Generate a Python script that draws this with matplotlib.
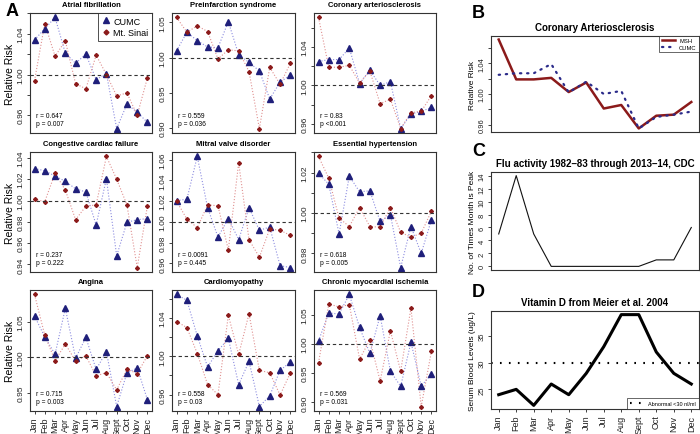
import matplotlib
matplotlib.use('Agg')
import matplotlib.pyplot as plt
from matplotlib.lines import Line2D
import numpy as np

plt.rcParams['font.family'] = ['Liberation Sans', 'DejaVu Sans']

months = ['Jan', 'Feb', 'Mar', 'Apr', 'May', 'Jun', 'Jul', 'Aug', 'Sept', 'Oct', 'Nov', 'Dec']

titles = ['Atrial fibrillation', 'Preinfarction syndrome', 'Coronary arteriosclerosis',
          'Congestive cardiac failure', 'Mitral valve disorder', 'Essential hypertension',
          'Angina', 'Cardiomyopathy', 'Chronic myocardial ischemia']

cumc = [
    [1.034, 1.045, 1.056, 1.021, 1.011, 1.020, 0.995, 1.001, 0.947, 0.971, 0.963, 0.953],
    [1.0095, 1.036, 1.024, 1.015, 1.014, 1.051, 1.004, 0.993, 0.981, 0.941, 0.965, 0.975],
    [1.025, 1.027, 1.027, 1.039, 1.002, 1.016, 1.000, 1.004, 0.955, 0.970, 0.973, 0.977],
    [1.030, 1.028, 1.023, 1.018, 1.011, 1.008, 0.977, 1.0205, 0.948, 0.9795, 0.982, 0.983],
    [1.0205, 1.0218, 1.063, 1.0136, 0.9854, 1.0032, 0.983, 1.0136, 0.9919, 0.995, 0.9578, 0.956],
    [1.0197, 1.0142, 0.9897, 1.0183, 1.0105, 1.011, 0.9958, 0.9992, 0.973, 0.9933, 0.980, 0.9967],
    [1.058, 1.0287, 1.0043, 1.069, 0.9986, 1.028, 0.9828, 1.008, 0.9306, 0.978, 0.985, 0.940],
    [1.0642, 1.0582, 1.0211, 0.9888, 1.0056, 1.0186, 0.9705, 0.9947, 0.9477, 0.9589, 0.9853, 0.994],
    [1.0052, 1.0529, 1.0511, 1.0845, 1.0282, 0.9839, 1.0483, 0.9534, 0.9276, 1.0029, 0.9282, 0.9483],
]
sinai = [
    [0.994, 1.050, 1.018, 1.033, 0.991, 0.986, 1.019, 1.000, 0.979, 0.982, 0.960, 0.997],
    [1.057, 1.036, 1.045, 1.037, 0.998, 1.011, 1.0095, 0.980, 0.899, 0.986, 0.962, 0.992],
    [1.071, 1.019, 1.019, 1.021, 1.0025, 1.015, 0.981, 0.9856, 0.955, 0.9716, 0.973, 0.9895],
    [1.001, 0.999, 1.0256, 1.0098, 0.982, 0.9946, 0.9959, 1.0414, 1.020, 0.9959, 0.937, 0.9953],
    [1.020, 1.0026, 0.9945, 1.0162, 1.0156, 0.973, 1.0568, 0.9828, 0.966, 0.9932, 0.9919, 0.987],
    [1.028, 1.0172, 0.9975, 0.9933, 1.0027, 0.9933, 0.993, 1.0027, 0.9905, 0.988, 0.990, 1.001],
    [1.0885, 1.031, 0.9952, 1.0187, 0.9947, 1.002, 0.9737, 0.9785, 0.954, 0.9833, 0.977, 1.0024],
    [1.0361, 1.0298, 1.0028, 0.9705, 0.960, 1.0425, 1.0018, 1.0442, 0.9853, 0.9828, 0.9596, 0.9828],
    [0.9678, 1.0684, 1.0632, 1.0672, 0.9741, 1.0069, 0.9368, 1.0224, 0.9534, 1.0615, 0.8931, 0.9879],
]
stats = ['r = 0.647\np = 0.007', 'r = 0.559\np = 0.036', 'r = 0.83\np <0.001',
         'r = 0.237\np = 0.222', 'r = 0.0091\np = 0.445', 'r = 0.618\np = 0.005',
         'r = 0.715\np = 0.003', 'r = 0.558\np = 0.03', 'r = 0.569\np = 0.031']
tick_step = [0.02, 0.05, 0.02, 0.02, 0.02, 0.01, 0.05, 0.02, 0.05]
label_every = [2, 1, 2, 1, 1, 2, 1, 2, 1]

flu_peaks = [5, 14, 5, 0, 0, 0, 0, 0, 0, 1, 1, 6]
vitd = [24, 25, 22, 26, 24, 28, 33, 39, 39, 32, 28, 26]

c_line = '#8c8ce0'
s_line = '#e09090'
c_mark = '#1f1f7a'
s_mark = '#8b1a1a'

W, H = 700., 435.
fig = plt.figure(figsize=(7, 4.35), dpi=100)


def add_ax(l, t, r, b):
    return fig.add_axes([l / W, 1 - b / H, (r - l) / W, (b - t) / H])


def r_style(ax):
    for s in ax.spines.values():
        s.set_linewidth(0.8)
        s.set_color('#333333')
    ax.tick_params(direction='out', length=2.5, width=0.6, pad=1.5, colors='#222222')
    ax.tick_params(axis='y', labelrotation=90)
    for lab in ax.get_yticklabels():
        lab.set_va('center')


x = np.arange(1, 13)
cols = [(30, 152), (172, 295), (314, 436)]
rows = [(14, 134), (153, 273), (291, 412)]

for i in range(9):
    r, c = divmod(i, 3)
    ax = add_ax(cols[c][0], rows[r][0], cols[c][1], rows[r][1])
    ax.plot(x, cumc[i], ls=':', color=c_line, lw=0.8)
    ax.plot(x, sinai[i], ls=':', color=s_line, lw=0.8)
    ax.plot(x, cumc[i], ls='none', marker='^', ms=3.8, color=c_mark)
    ax.plot(x, sinai[i], ls='none', marker='D', ms=2.0, color=s_mark)
    ax.axhline(1.0, color='#333333', ls=(0, (3, 2.5)), lw=0.8)
    ax.margins(x=0.04, y=0.04)
    lo, hi = ax.get_ylim()
    st = tick_step[i]
    ticks = st * np.arange(np.ceil(lo / st - 1e-6), np.floor(hi / st + 1e-6) + 1)
    labs = ['%.2f' % v if int(round((v - 1.0) / st)) % label_every[i] == 0 else '' for v in ticks]
    ax.set_yticks(ticks)
    ax.set_yticklabels(labs, fontsize=6)
    ax.set_xticks(x)
    if r == 2:
        ax.set_xticklabels(months, rotation=90, fontsize=6.5)
    else:
        ax.tick_params(axis='x', bottom=False, labelbottom=False)
    ax.set_title(titles[i], fontsize=5.5, fontweight='bold', pad=5)
    if c == 0:
        ax.set_ylabel('Relative Risk', fontsize=7.5, labelpad=2)
    ax.text(0.05, 0.05, stats[i], transform=ax.transAxes, fontsize=4.8, va='bottom', ha='left')
    r_style(ax)
    if i == 0:
        h = [Line2D([], [], ls='none', marker='^', ms=4, color=c_mark),
             Line2D([], [], ls='none', marker='D', ms=2.5, color=s_mark)]
        leg = ax.legend(h, ['CUMC', 'Mt. Sinai'], loc='upper right', fontsize=6.5,
                        fancybox=False, edgecolor='#222222', borderaxespad=0,
                        handletextpad=0.3, borderpad=0.4, handlelength=1.0, labelspacing=0.3)
        leg.get_frame().set_linewidth(0.7)

# panel B
axb = add_ax(491, 37, 699, 133)
axb.plot(x, sinai[2], color=s_mark, lw=1.8, label='MSH')
axb.plot(x, cumc[2], color='#2b2b8a', lw=1.6, ls=(0, (0.6, 2.6)), dash_capstyle='round', label='CUMC')
axb.margins(x=0.04, y=0.04)
axb.set_yticks([0.96, 0.98, 1.00, 1.02, 1.04, 1.06])
axb.set_yticklabels(['0.96', '', '1.00', '', '1.04', ''], fontsize=5.5)
axb.set_xticks([])
axb.set_title('Coronary Arteriosclerosis', fontsize=7, fontweight='bold', pad=4)
axb.set_ylabel('Relative Risk', fontsize=6, labelpad=2)
r_style(axb)
leg = axb.legend(loc='upper right', fontsize=4.2, fancybox=False, edgecolor='#222222',
                 borderaxespad=0, handlelength=2.2, borderpad=0.4, labelspacing=0.2)
leg.get_frame().set_linewidth(0.6)

# panel C
axc = add_ax(491, 173, 699, 271)
axc.plot(x, flu_peaks, color='#111111', lw=0.8)
axc.margins(x=0.04, y=0.04)
axc.set_yticks(np.arange(0, 15, 2))
axc.set_yticklabels([str(v) for v in range(0, 15, 2)], fontsize=5.5)
axc.set_xticks([])
axc.set_title('Flu activity 1982\u201383 through 2013\u201314, CDC', fontsize=7, fontweight='bold', pad=4)
axc.set_ylabel('No. of Times Month is Peak', fontsize=6, labelpad=2)
r_style(axc)

# panel D
axd = add_ax(491, 312, 699, 410)
axd.plot(x, vitd, color='black', lw=2.2)
axd.margins(x=0.04, y=0.04)
axd.axhline(30, color='black', lw=1.5, ls=(0, (0.8, 3.5)), label='Abnormal <30 nl/ml')
axd.set_yticks([25, 30, 35])
axd.set_yticklabels(['25', '30', '35'], fontsize=5.5)
axd.set_xticks(x)
axd.set_xticklabels(months, rotation=90, fontsize=6.5)
axd.set_title('Vitamin D from Meier et al. 2004', fontsize=7, fontweight='bold', pad=4)
axd.set_ylabel('Serum Blood Levels (ug/L)', fontsize=6, labelpad=2)
r_style(axd)
leg = axd.legend(loc='lower right', fontsize=4, fancybox=False, edgecolor='#222222',
                 borderaxespad=0, handlelength=2.5, borderpad=0.5)
leg.get_frame().set_linewidth(0.6)

for letter, (px, py) in zip('ABCD', [(6, 12), (472, 14), (472, 152), (472, 293)]):
    fig.text(px / W, 1 - py / H, letter, fontsize=13, fontweight='bold', va='center', ha='left')

fig.savefig('out.png', dpi=100)
